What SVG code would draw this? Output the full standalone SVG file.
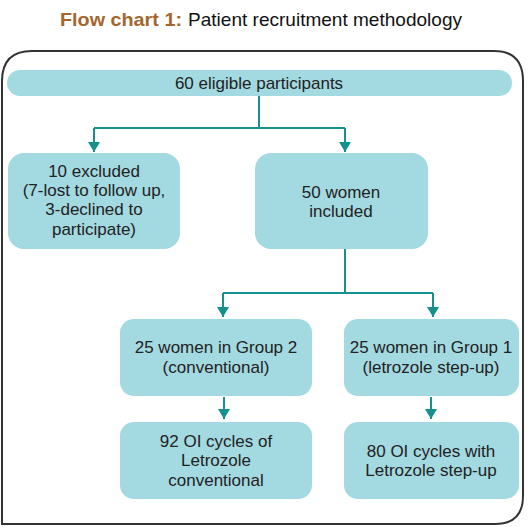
<svg xmlns="http://www.w3.org/2000/svg" width="529" height="527" viewBox="0 0 529 527">
<defs>
<style>
.box{fill:#a3d9e0;}
.t{font-family:"Liberation Sans",Arial,sans-serif;font-size:17px;fill:#222;text-anchor:middle;}
.con{fill:none;stroke:#14908f;stroke-width:2;}
.ah{fill:#14908f;}
</style>
<marker id="arr" viewBox="0 0 10 12" refX="10" refY="6" markerWidth="10" markerHeight="12" markerUnits="userSpaceOnUse" orient="auto">
<path d="M0,0 L10,6 L0,12 Z" class="ah"/>
</marker>
</defs>
<rect width="529" height="527" fill="#fff"/>
<text x="60" y="26" font-family="'Liberation Sans',Arial,sans-serif" font-size="18.5" font-weight="bold" fill="#a4662c" textLength="122" lengthAdjust="spacingAndGlyphs">Flow chart 1:</text>
<text x="188" y="26" font-family="'Liberation Sans',Arial,sans-serif" font-size="18.5" fill="#111" textLength="274" lengthAdjust="spacingAndGlyphs">Patient recruitment methodology</text>
<path d="M2,524 L2,81 Q2,51 32,51 L494,51 Q523,51 523,81 L523,496 Q523,524 495,524 Z" fill="none" stroke="#333" stroke-width="2"/>
<g id="connectors">
<path class="con" d="M259,96 V128 M94,128 H345"/>
<path class="con" d="M94,128 V152" marker-end="url(#arr)"/>
<path class="con" d="M345,128 V152" marker-end="url(#arr)"/>
<path class="con" d="M345,249 V293 M223,293 H433"/>
<path class="con" d="M223,293 V317" marker-end="url(#arr)"/>
<path class="con" d="M433,293 V317" marker-end="url(#arr)"/>
<path class="con" d="M224,397 V419" marker-end="url(#arr)"/>
<path class="con" d="M431,397 V419" marker-end="url(#arr)"/>
</g>
<g id="n1"><rect class="box" x="7" y="70" width="505" height="26" rx="13"/><text class="t" x="259" y="89">60 eligible participants</text></g>
<g id="n2"><rect class="box" x="8" y="153" width="172" height="96" rx="16"/>
<text class="t" x="94" y="177">10 excluded</text>
<text class="t" x="94" y="196">(7-lost to follow up,</text>
<text class="t" x="94" y="215">3-declined to</text>
<text class="t" x="94" y="235">participate)</text></g>
<g id="n3"><rect class="box" x="255" y="153" width="173" height="96" rx="16"/>
<text class="t" x="341" y="198">50 women</text>
<text class="t" x="341" y="217">included</text></g>
<g id="n4"><rect class="box" x="120" y="319" width="192" height="77" rx="14"/>
<text class="t" x="216" y="353">25 women in Group 2</text>
<text class="t" x="216" y="373">(conventional)</text></g>
<g id="n5"><rect class="box" x="344" y="319" width="175" height="77" rx="14"/>
<text class="t" x="431" y="353">25 women in Group 1</text>
<text class="t" x="431" y="373">(letrozole step-up)</text></g>
<g id="n6"><rect class="box" x="120" y="422" width="192" height="77" rx="14"/>
<text class="t" x="216" y="447">92 OI cycles of</text>
<text class="t" x="216" y="466">Letrozole</text>
<text class="t" x="216" y="486">conventional</text></g>
<g id="n7"><rect class="box" x="344" y="422" width="175" height="77" rx="14"/>
<text class="t" x="431" y="457">80 OI cycles with</text>
<text class="t" x="431" y="476">Letrozole step-up</text></g>
</svg>
